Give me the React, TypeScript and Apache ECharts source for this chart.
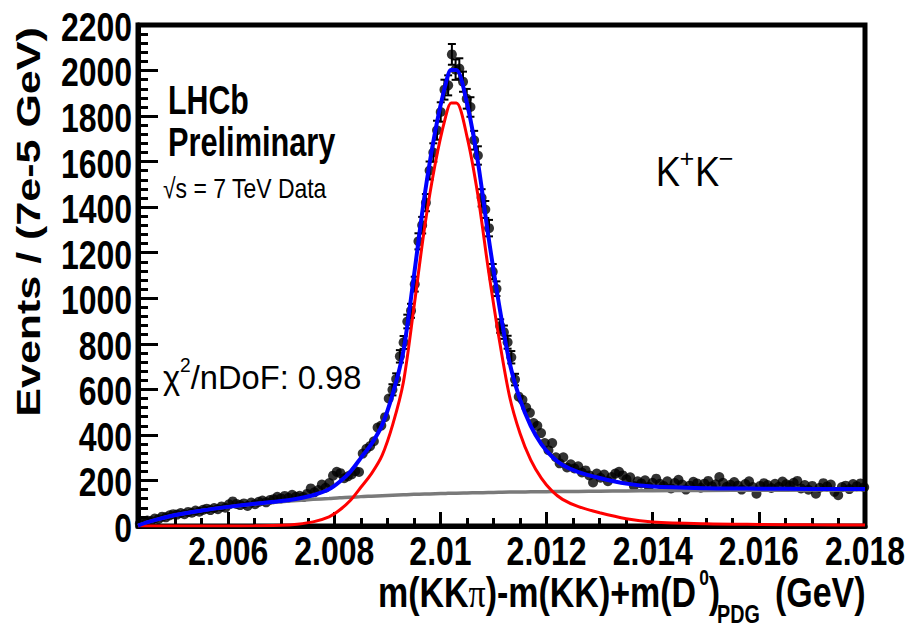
import React, { useEffect, useRef } from "react";
import * as echarts from "echarts";

// ---------- data ----------
const binLow = 2.0043;
const binWidth = 0.00007;
const counts = [
  10, 16, 24, 22, 33, 30, 41, 38, 47, 52,
  50, 57, 52, 62, 58, 68, 63, 71, 76, 70,
  79, 74, 86, 80, 95, 108, 97, 92, 99, 88,
  103, 96, 106, 112, 104, 114, 118, 128, 121, 132,
  124, 137, 128, 133, 127, 141, 165, 148, 158, 182,
  168, 189, 221, 238, 232, 210, 218, 226, 241, 237,
  318, 339, 351, 372, 432, 441, 478, 560, 598, 645,
  745, 806, 898, 945, 1062, 1250, 1321, 1420, 1561, 1640,
  1738, 1818, 1916, 1935, 2071, 2004, 2009, 1951, 1876, 1840,
  1694, 1627, 1441, 1390, 1308, 1117, 1042, 878, 851, 807,
  741, 643, 568, 554, 520, 497, 452, 440, 408, 364,
  333, 364, 302, 275, 302, 257, 271, 253, 262, 235,
  244, 222, 191, 230, 212, 226, 197, 215, 230, 238,
  222, 205, 214, 176, 196, 187, 201, 172, 190, 208,
  185, 176, 196, 165, 189, 203, 182, 160, 177, 194,
  187, 168, 186, 198, 175, 183, 215, 190, 172, 181,
  193, 178, 160, 184, 196, 171, 142, 176, 188, 180,
  167, 185, 172, 195, 183, 178, 190, 198, 165, 180,
  159, 176, 142, 168, 188, 174, 182, 150, 135, 171,
  177, 162, 184, 175, 187, 170,
];

const curveX = [
  2.0043, 2.0045, 2.005, 2.0055, 2.006, 2.0065, 2.007, 2.0073, 2.0076, 2.0079,
  2.0081, 2.0083, 2.0085, 2.0087, 2.0089, 2.0091, 2.0093, 2.0095, 2.0097, 2.0099,
  2.0101, 2.0102, 2.0103, 2.0105, 2.0107, 2.0109, 2.0111, 2.0113, 2.0115, 2.0117,
  2.0119, 2.0121, 2.0123, 2.0126, 2.013, 2.0135, 2.014, 2.015, 2.016, 2.017, 2.018,
];
const signalY = [
  0, 0, 0, 0, 0, 1, 3, 8, 18, 40,
  70, 112, 170, 230, 310, 445, 630, 960, 1310, 1590,
  1800, 1858, 1858, 1710, 1460, 1130, 830, 571, 406, 290,
  210, 154, 117, 85, 58, 32, 18, 10, 7, 5, 4,
];
const backgroundY = [
  2, 18, 48, 68, 84, 97, 107, 112, 117, 121,
  124, 126, 129, 131, 133, 135, 137, 139, 140, 142,
  143, 144, 144, 145, 146, 147, 148, 149, 149, 150,
  150, 151, 151, 152, 153, 154, 155, 156, 157, 158, 159,
];
const totalY = [
  2, 18, 48, 68, 84, 98, 110, 120, 135, 161,
  194, 238, 299, 361, 443, 580, 767, 1099, 1450, 1732,
  1943, 2002, 2002, 1855, 1606, 1277, 978, 720, 555, 440,
  360, 305, 268, 237, 211, 186, 173, 166, 164, 163, 163,
];

const xMajorTicks = [2.006, 2.008, 2.01, 2.012, 2.014, 2.016, 2.018];
const xTickLabels = ["2.006", "2.008", "2.01", "2.012", "2.014", "2.016", "2.018"];
const xMinorTicks = [
  2.0045, 2.005, 2.0055, 2.0065, 2.007, 2.0075, 2.0085, 2.009, 2.0095,
  2.0105, 2.011, 2.0115, 2.0125, 2.013, 2.0135, 2.0145, 2.015, 2.0155,
  2.0165, 2.017, 2.0175,
];
const yTicks = [0, 200, 400, 600, 800, 1000, 1200, 1400, 1600, 1800, 2000, 2200];

const SANS = '"Liberation Sans", Arial, sans-serif';
const SERIF = '"Liberation Serif", serif';

// pieces of the x-axis title: [text, family, weight, size, vertical offset, gap before]
const xTitleParts: [string, string, string, number, number, number][] = [
  ["m(KK", SANS, "bold", 43, 0, 0],
  ["π", SERIF, "normal", 43, 0, 0],
  [")-m(KK)+m(D", SANS, "bold", 43, 0, 0],
  ["0", SANS, "bold", 22, -15, 3],
  [")", SANS, "bold", 43, 0, 0],
  ["PDG", SANS, "bold", 25, 23, -3],
  ["(GeV)", SANS, "bold", 43, 0, 15],
];

function measure(text: string, family: string, weight: string, size: number): number {
  const c = document.createElement("canvas").getContext("2d");
  if (!c) return text.length * size * 0.55;
  c.font = `${weight} ${size}px ${family}`;
  return c.measureText(text).width;
}

export default function App() {
  const ref = useRef<HTMLDivElement>(null);

  useEffect(() => {
    if (!ref.current) return;
    const chart = echarts.init(ref.current, null, { renderer: "svg" });

    const points = counts.map((c, i) => [binLow + binWidth * (i + 0.5), c]);
    const errPoints = counts.map((c, i) => [binLow + binWidth * (i + 0.5), c, Math.sqrt(c)]);
    const line = (ys: number[]) => curveX.map((x, i) => [x, ys[i]]);

    const option: any = {
      animation: false,
      backgroundColor: "#fff",
      grid: {
        left: 138,
        right: 45,
        top: 25,
        bottom: 105,
        show: true,
        borderColor: "#000",
        borderWidth: 5,
        backgroundColor: "transparent",
      },
      xAxis: [
        {
          type: "value",
          min: 2.0043,
          max: 2.018,
          axisLine: { show: true, lineStyle: { color: "#000", width: 5 } },
          axisTick: {
            show: true,
            inside: true,
            length: 14,
            lineStyle: { color: "#000", width: 3 },
            customValues: xMajorTicks,
          },
          axisLabel: { show: false },
          splitLine: { show: false },
        },
        {
          type: "value",
          min: 2.0043,
          max: 2.018,
          position: "bottom",
          axisLine: { show: false },
          axisTick: {
            show: true,
            inside: true,
            length: 8,
            lineStyle: { color: "#000", width: 3 },
            customValues: xMinorTicks,
          },
          axisLabel: { show: false },
          splitLine: { show: false },
        },
      ],
      yAxis: {
        type: "value",
        min: 0,
        max: 2200,
        interval: 200,
        axisLine: { show: true, lineStyle: { color: "#000", width: 5 } },
        axisTick: {
          show: true,
          inside: true,
          length: 20,
          lineStyle: { color: "#000", width: 3 },
        },
        minorTick: {
          show: true,
          splitNumber: 5,
          length: 10,
          lineStyle: { color: "#000", width: 3 },
        },
        axisLabel: { show: false },
        splitLine: { show: false },
      },
      series: [
        {
          type: "custom",
          name: "errors",
          xAxisIndex: 0,
          z: 2,
          renderItem: (params: any, api: any) => {
            const x = api.value(0);
            const y = api.value(1);
            const e = api.value(2);
            const top = api.coord([x, y + e]);
            const bot = api.coord([x, y - e]);
            const half = (bot[1] - top[1]) / 2;
            if (half < 5.5) return null;
            const st = { stroke: "#000", lineWidth: 2 };
            return {
              type: "group",
              children: [
                { type: "line", shape: { x1: top[0], y1: top[1], x2: bot[0], y2: bot[1] }, style: st },
                { type: "line", shape: { x1: top[0] - 4, y1: top[1], x2: top[0] + 4, y2: top[1] }, style: st },
                { type: "line", shape: { x1: bot[0] - 4, y1: bot[1], x2: bot[0] + 4, y2: bot[1] }, style: st },
              ],
            };
          },
          data: errPoints,
        },
        {
          type: "scatter",
          name: "data",
          xAxisIndex: 0,
          z: 3,
          symbol: "circle",
          symbolSize: 10,
          itemStyle: { color: "#000" },
          data: points,
        },
        {
          type: "line",
          name: "background",
          xAxisIndex: 0,
          z: 4,
          showSymbol: false,
          smooth: 0.3,
          lineStyle: { color: "#7a7a7a", width: 3.5 },
          data: line(backgroundY),
        },
        {
          type: "line",
          name: "signal",
          xAxisIndex: 0,
          z: 5,
          showSymbol: false,
          smooth: 0.3,
          lineStyle: { color: "#ff0000", width: 3 },
          data: line(signalY),
        },
        {
          type: "line",
          name: "total",
          xAxisIndex: 0,
          z: 6,
          showSymbol: false,
          smooth: 0.3,
          lineStyle: { color: "#0000ff", width: 4 },
          data: line(totalY),
        },
      ],
    };

    chart.setOption(option);

    // axis tick labels placed through the axes' own scales
    const yZero = chart.convertToPixel({ yAxisIndex: 0 }, 0) as number;
    const xLeft = chart.convertToPixel({ xAxisIndex: 0 }, 2.0043) as number;
    const tickFont = { fontFamily: SANS, fontWeight: "bold", fontSize: 41, fill: "#000" };

    const xLabelEls = xMajorTicks.map((v, i) => ({
      type: "text",
      x: chart.convertToPixel({ xAxisIndex: 0 }, v) as number,
      y: yZero + 25,
      scaleX: 0.78,
      style: { ...tickFont, text: xTickLabels[i], align: "center", verticalAlign: "middle" },
    }));
    const yLabelEls = yTicks.map((v) => ({
      type: "text",
      x: xLeft - 6,
      y: (chart.convertToPixel({ yAxisIndex: 0 }, v) as number) + 2,
      scaleX: 0.78,
      style: { ...tickFont, text: String(v), align: "right", verticalAlign: "middle" },
    }));

    // x-axis title, laid out piece by piece
    const titleScale = 0.79;
    const titleY = 592;
    let cursor = 378;
    const xTitleEls = xTitleParts.map(([text, family, weight, size, dy, gap]) => {
      cursor += gap;
      const el = {
        type: "text",
        x: cursor,
        y: titleY + dy,
        scaleX: titleScale,
        style: { text, fontFamily: family, fontWeight: weight, fontSize: size, fill: "#000", align: "left", verticalAlign: "middle" },
      };
      cursor += measure(text, family, weight, size) * titleScale;
      return el;
    });

    const graphic: any[] = [
      ...xLabelEls,
      ...yLabelEls,
      ...xTitleEls,
      {
        type: "text",
        x: 28,
        y: 222,
        rotation: Math.PI / 2,
        scaleY: 0.78,
        style: {
          text: "Events / (7e-5 GeV)",
          fontFamily: SANS,
          fontWeight: "bold",
          fontSize: 43,
          fill: "#000",
          align: "center",
          verticalAlign: "middle",
        },
      },
      {
        type: "text",
        x: 168,
        y: 100,
        scaleX: 0.74,
        style: { text: "LHCb", fontFamily: SANS, fontWeight: "bold", fontSize: 41, fill: "#000", align: "left", verticalAlign: "middle" },
      },
      {
        type: "text",
        x: 168,
        y: 142,
        scaleX: 0.75,
        style: { text: "Preliminary", fontFamily: SANS, fontWeight: "bold", fontSize: 41, fill: "#000", align: "left", verticalAlign: "middle" },
      },
      {
        type: "text",
        x: 163,
        y: 188,
        scaleX: 0.82,
        style: { text: "√s = 7 TeV Data", fontFamily: SANS, fontWeight: "normal", fontSize: 28, fill: "#000", align: "left", verticalAlign: "middle" },
      },
      {
        type: "text",
        x: 163,
        y: 355,
        scaleX: 0.96,
        style: {
          text: "χ{sup|2}/nDoF: 0.98",
          fontFamily: SANS,
          fontSize: 34,
          lineHeight: 44,
          fill: "#000",
          align: "left",
          verticalAlign: "top",
          rich: {
            sup: { fontFamily: SANS, fontSize: 20, lineHeight: 32, verticalAlign: "top" },
          },
        },
      },
      {
        type: "text",
        x: 655,
        y: 145,
        style: {
          text: "K{sup|+}K{sup|−}",
          fontFamily: '"Open Sans", "Noto Sans", sans-serif',
          fontSize: 40,
          lineHeight: 50,
          fill: "#000",
          align: "left",
          verticalAlign: "top",
          rich: {
            sup: { fontFamily: '"Open Sans", "Noto Sans", sans-serif', fontSize: 26, lineHeight: 36, verticalAlign: "top" },
          },
        },
      },
    ];

    chart.setOption({ graphic });
    return () => chart.dispose();
  }, []);

  return (
    <div
      ref={ref}
      style={{ position: "fixed", left: 0, top: 0, width: 910, height: 631, background: "#fff" }}
    />
  );
}
